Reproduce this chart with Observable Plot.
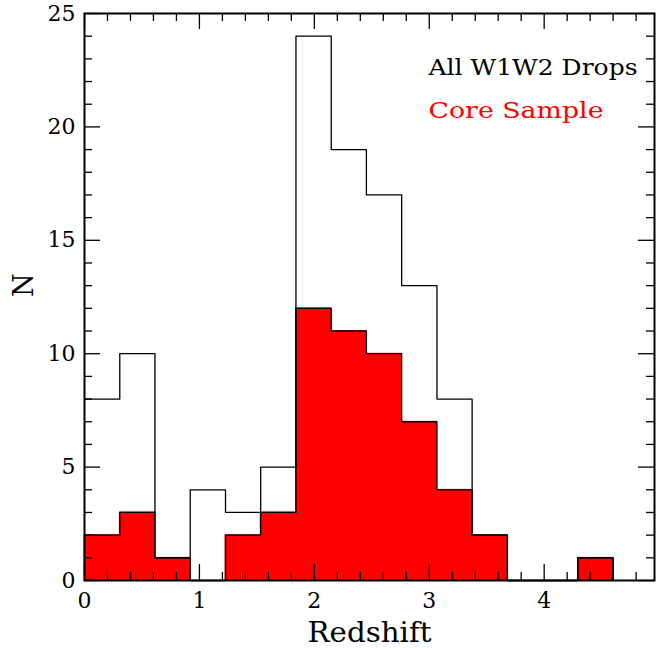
<!DOCTYPE html>
<html><head><meta charset="utf-8">
<script src="https://cdn.jsdelivr.net/npm/d3@7"></script>
<script src="https://cdn.jsdelivr.net/npm/@observablehq/plot@0.6"></script>
<style>body{margin:0;background:#fff} #chart{width:668px;height:648px}</style>
</head><body><div id="chart"></div>
<script>
// ---- data ----
const binEdges   = [0, 0.307, 0.613, 0.92, 1.227, 1.533, 1.84, 2.147, 2.453, 2.76, 3.067, 3.373, 3.68, 3.987, 4.293, 4.6];
const allCounts  = [8, 10, 1, 4, 3, 5, 24, 19, 17, 13, 8, 2, 0, 0, 1];
const coreCounts = [2, 3, 1, 0, 2, 3, 12, 11, 10, 7, 4, 2, 0, 0, 1];
const seriesNames = ["All W1W2 Drops", "Core Sample"];
const xTicks = [0, 1, 2, 3, 4];
const yTicks = [0, 5, 10, 15, 20, 25];
const xLabel = "Redshift";
const yLabel = "N";

const bins = binEdges.slice(0, -1).map((x1, i) => ({x1, x2: binEdges[i + 1], all: allCounts[i], core: coreCounts[i]}));
const steps = key => bins.map(b => ({x: b.x1, y: b[key]})).concat([{x: binEdges[binEdges.length - 1], y: 0}]);

const xMinor = d3.range(0, 50, 2).map(d => d / 10).filter(d => !xTicks.includes(d));
const yMinor = d3.range(0, 26).filter(d => !yTicks.includes(d));

const W = 668, H = 648, mL = 84, mR = 14, mT = 13, mB = 68;
const iw = W - mL - mR, ih = H - mT - mB;
const MAJ = 16, MIN = 8;
const RED = "#ff0000";

const plot = Plot.plot({
  width: W, height: H,
  marginLeft: mL, marginRight: mR, marginTop: mT, marginBottom: mB,
  style: {fontFamily: "DejaVu Serif", fontSize: "22px", background: "white", color: "black"},
  x: {domain: [0, 4.96]},
  y: {domain: [0, 25]},
  marks: [
    Plot.rectY(bins.filter(b => b.core > 0), {x1: "x1", x2: "x2", y: "core", fill: RED, stroke: RED, strokeWidth: 0.8}),
    Plot.line(steps("core"), {x: "x", y: "y", curve: "step-after", stroke: "black", strokeWidth: 1.3}),
    Plot.line(steps("all"), {x: "x", y: "y", curve: "step-after", stroke: "black", strokeWidth: 1.3}),
    // inward ticks, all four sides
    Plot.tickX(xTicks, {x: d => d, insetTop: ih - MAJ, stroke: "black", strokeWidth: 1.3}),
    Plot.tickX(xMinor, {x: d => d, insetTop: ih - MIN, stroke: "black", strokeWidth: 1.3}),
    Plot.tickX(xTicks, {x: d => d, insetBottom: ih - MAJ, stroke: "black", strokeWidth: 1.3}),
    Plot.tickX(xMinor, {x: d => d, insetBottom: ih - MIN, stroke: "black", strokeWidth: 1.3}),
    Plot.tickY(yTicks, {y: d => d, insetRight: iw - MAJ, stroke: "black", strokeWidth: 1.3}),
    Plot.tickY(yMinor, {y: d => d, insetRight: iw - MIN, stroke: "black", strokeWidth: 1.3}),
    Plot.tickY(yTicks, {y: d => d, insetLeft: iw - MAJ, stroke: "black", strokeWidth: 1.3}),
    Plot.tickY(yMinor, {y: d => d, insetLeft: iw - MIN, stroke: "black", strokeWidth: 1.3}),
    Plot.frame({stroke: "black", strokeWidth: 2}),
    Plot.axisX({ticks: xTicks, tickSize: 0, tickPadding: 12, tickFormat: d => String(d), label: null, fontSize: 22}),
    Plot.axisY({ticks: yTicks, tickSize: 0, tickPadding: 9, tickFormat: d => String(d), label: null, fontSize: 22}),
    Plot.text([xLabel], {frameAnchor: "bottom", lineAnchor: "middle", dy: 53, fontSize: 27, text: d => d}),
    Plot.text([yLabel], {frameAnchor: "left", lineAnchor: "middle", dx: -60, rotate: -90, fontSize: 27, text: d => d}),
    Plot.text([seriesNames[0]], {frameAnchor: "top-right", lineAnchor: "middle", dx: -226, dy: 54, textAnchor: "start", fontSize: 23, fill: "black", text: d => d}),
    Plot.text([seriesNames[1]], {frameAnchor: "top-right", lineAnchor: "middle", dx: -226, dy: 97.5, textAnchor: "start", fontSize: 22, fill: RED, text: d => d})
  ]
});
// widen the labels to the reference's (Hershey-like) extents
const widths = {"All W1W2 Drops": 209, "Core Sample": 175, "Redshift": 124};
d3.select(plot).selectAll("text").each(function() {
  const t = this.textContent;
  if (widths[t]) d3.select(this).attr("textLength", widths[t]).attr("lengthAdjust", "spacingAndGlyphs");
});
document.getElementById("chart").appendChild(plot);
</script>
</body></html>
